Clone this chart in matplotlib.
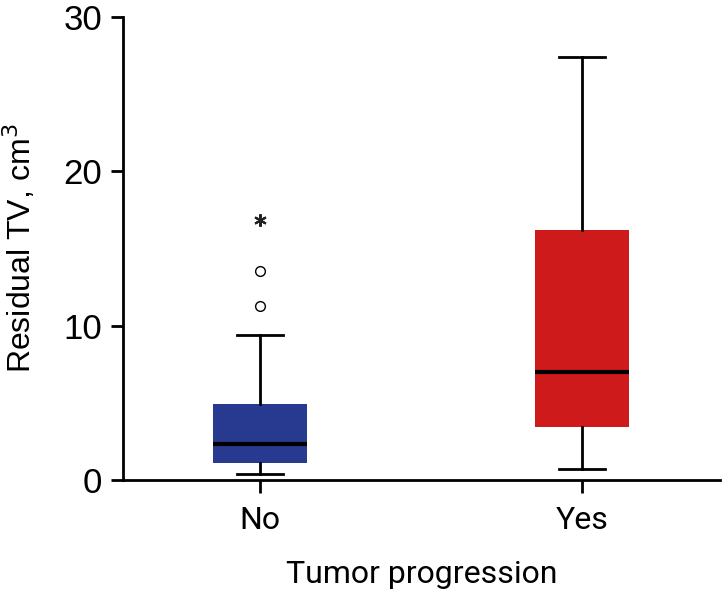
import matplotlib
matplotlib.use("Agg")
import matplotlib.pyplot as plt

# box summary values (cm^3)
groups = ["No", "Yes"]
q1 = [1.10, 3.45]
median = [2.33, 7.02]
q3 = [4.93, 16.18]
whisker_low = [0.39, 0.71]
whisker_high = [9.40, 27.39]
outliers = [[11.28, 13.55], []]
extremes = [[16.85], []]
colors = ["#283a8f", "#cf1a1c"]

fig = plt.figure(figsize=(7.23, 5.93), dpi=100)
ax = fig.add_axes([0.170, 0.1906, 0.826, 0.781])

stats = []
for i, g in enumerate(groups):
    stats.append(dict(label=g, med=median[i], q1=q1[i], q3=q3[i],
                      whislo=whisker_low[i], whishi=whisker_high[i],
                      fliers=outliers[i]))

pos = [1, 2]
bp = ax.bxp(stats, positions=pos, widths=0.29, patch_artist=True,
            showfliers=True, showcaps=True,
            medianprops=dict(color="black", linewidth=3, solid_capstyle="butt"),
            whiskerprops=dict(color="black", linewidth=2),
            capprops=dict(color="black", linewidth=2),
            capwidths=0.145,
            flierprops=dict(marker="o", markerfacecolor="white",
                            markeredgecolor="black", markersize=7,
                            markeredgewidth=1))
for patch, c in zip(bp["boxes"], colors):
    patch.set_facecolor(c)
    patch.set_edgecolor(c)
    patch.set_linewidth(0)

# extreme values drawn as asterisks
for p, ex in zip(pos, extremes):
    if ex:
        ax.plot([p] * len(ex), ex, linestyle="none", marker=(6, 2, 0),
                color="#222222", markersize=9, markeredgewidth=1.5)

ax.set_xlim(0.5745, 2.4286)
ax.set_ylim(0, 30)
ax.set_yticks([0, 10, 20, 30])
ax.set_xticks(pos)
ax.set_xticklabels(groups)

for s in ["top", "right"]:
    ax.spines[s].set_visible(False)
for s in ["left", "bottom"]:
    ax.spines[s].set_linewidth(2)
ax.tick_params(axis="both", direction="out", length=9, width=2)
for lab in ax.get_yticklabels():
    lab.set_fontfamily("Liberation Sans")
    lab.set_fontsize(25)
for lab in ax.get_xticklabels():
    lab.set_fontfamily("Roboto")
    lab.set_fontsize(23)
ax.tick_params(axis="x", pad=10)
ax.tick_params(axis="y", pad=6)

ax.set_ylabel("Residual TV, cm$^3$", fontsize=23, family="Liberation Sans",
              labelpad=18)
ax.set_xlabel("Tumor progression", fontsize=23, family="Roboto", labelpad=18)

fig.savefig("out.png", dpi=100)
